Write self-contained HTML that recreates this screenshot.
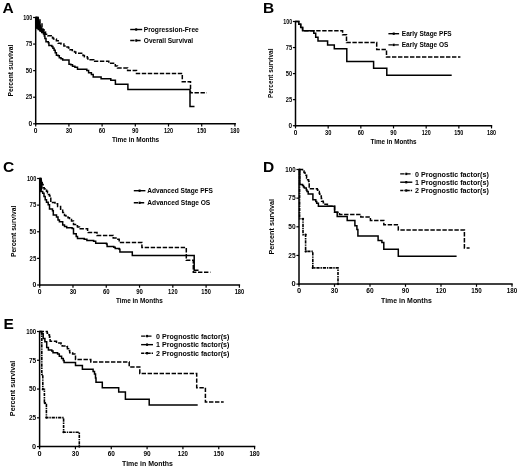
<!DOCTYPE html>
<html><head><meta charset="utf-8"><style>
html,body{margin:0;padding:0;background:#fff;width:520px;height:469px;overflow:hidden}
svg{display:block;filter:grayscale(1)}
</style></head><body>
<svg width="520" height="469" viewBox="0 0 520 469">
<rect width="520" height="469" fill="#fff"/>
<g font-family='"Liberation Sans", sans-serif' fill="#000">
<text x="2.6" y="12.7" font-size="15.5" font-weight="bold">A</text>
<text x="263.1" y="12.7" font-size="15.5" font-weight="bold">B</text>
<text x="3.1" y="172.3" font-size="15.5" font-weight="bold">C</text>
<text x="263.0" y="172.2" font-size="15.5" font-weight="bold">D</text>
<text x="3.6" y="329.0" font-size="15.5" font-weight="bold">E</text>
<line x1="35.7" y1="16.8" x2="35.7" y2="124.55" stroke="#000" stroke-width="1.5"/>
<line x1="34.95" y1="123.8" x2="235.89999999999998" y2="123.8" stroke="#000" stroke-width="1.5"/>
<line x1="33.1" y1="123.8" x2="35.7" y2="123.8" stroke="#000" stroke-width="1.2"/>
<text x="32.3" y="126.05" font-size="6.7" font-weight="bold" text-anchor="end" textLength="3.69" lengthAdjust="spacingAndGlyphs">0</text>
<line x1="33.1" y1="97.225" x2="35.7" y2="97.225" stroke="#000" stroke-width="1.2"/>
<text x="32.3" y="99.47" font-size="6.7" font-weight="bold" text-anchor="end" textLength="6.5" lengthAdjust="spacingAndGlyphs">25</text>
<line x1="33.1" y1="70.65" x2="35.7" y2="70.65" stroke="#000" stroke-width="1.2"/>
<text x="32.3" y="72.9" font-size="6.7" font-weight="bold" text-anchor="end" textLength="6.5" lengthAdjust="spacingAndGlyphs">50</text>
<line x1="33.1" y1="44.075" x2="35.7" y2="44.075" stroke="#000" stroke-width="1.2"/>
<text x="32.3" y="46.33" font-size="6.7" font-weight="bold" text-anchor="end" textLength="6.5" lengthAdjust="spacingAndGlyphs">75</text>
<line x1="33.1" y1="17.5" x2="35.7" y2="17.5" stroke="#000" stroke-width="1.2"/>
<text x="32.3" y="19.75" font-size="6.7" font-weight="bold" text-anchor="end" textLength="9.02" lengthAdjust="spacingAndGlyphs">100</text>
<line x1="35.7" y1="123.8" x2="35.7" y2="126.5" stroke="#000" stroke-width="1.2"/>
<text x="35.7" y="132.7" font-size="6.7" font-weight="bold" text-anchor="middle" textLength="3.69" lengthAdjust="spacingAndGlyphs">0</text>
<line x1="68.9" y1="123.8" x2="68.9" y2="126.5" stroke="#000" stroke-width="1.2"/>
<text x="68.9" y="132.7" font-size="6.7" font-weight="bold" text-anchor="middle" textLength="6.5" lengthAdjust="spacingAndGlyphs">30</text>
<line x1="102.10000000000001" y1="123.8" x2="102.10000000000001" y2="126.5" stroke="#000" stroke-width="1.2"/>
<text x="102.1" y="132.7" font-size="6.7" font-weight="bold" text-anchor="middle" textLength="6.5" lengthAdjust="spacingAndGlyphs">60</text>
<line x1="135.3" y1="123.8" x2="135.3" y2="126.5" stroke="#000" stroke-width="1.2"/>
<text x="135.3" y="132.7" font-size="6.7" font-weight="bold" text-anchor="middle" textLength="6.5" lengthAdjust="spacingAndGlyphs">90</text>
<line x1="168.5" y1="123.8" x2="168.5" y2="126.5" stroke="#000" stroke-width="1.2"/>
<text x="168.5" y="132.7" font-size="6.7" font-weight="bold" text-anchor="middle" textLength="9.21" lengthAdjust="spacingAndGlyphs">120</text>
<line x1="201.7" y1="123.8" x2="201.7" y2="126.5" stroke="#000" stroke-width="1.2"/>
<text x="201.7" y="132.7" font-size="6.7" font-weight="bold" text-anchor="middle" textLength="9.21" lengthAdjust="spacingAndGlyphs">150</text>
<line x1="234.90000000000003" y1="123.8" x2="234.90000000000003" y2="126.5" stroke="#000" stroke-width="1.2"/>
<text x="234.9" y="132.7" font-size="6.7" font-weight="bold" text-anchor="middle" textLength="9.21" lengthAdjust="spacingAndGlyphs">180</text>
<line x1="295.5" y1="20.8" x2="295.5" y2="126.45" stroke="#000" stroke-width="1.5"/>
<line x1="294.75" y1="125.7" x2="492.2" y2="125.7" stroke="#000" stroke-width="1.5"/>
<line x1="292.9" y1="125.7" x2="295.5" y2="125.7" stroke="#000" stroke-width="1.2"/>
<text x="292.1" y="127.95" font-size="6.7" font-weight="bold" text-anchor="end" textLength="3.61" lengthAdjust="spacingAndGlyphs">0</text>
<line x1="292.9" y1="99.65" x2="295.5" y2="99.65" stroke="#000" stroke-width="1.2"/>
<text x="292.1" y="101.9" font-size="6.7" font-weight="bold" text-anchor="end" textLength="6.37" lengthAdjust="spacingAndGlyphs">25</text>
<line x1="292.9" y1="73.6" x2="295.5" y2="73.6" stroke="#000" stroke-width="1.2"/>
<text x="292.1" y="75.85" font-size="6.7" font-weight="bold" text-anchor="end" textLength="6.37" lengthAdjust="spacingAndGlyphs">50</text>
<line x1="292.9" y1="47.55" x2="295.5" y2="47.55" stroke="#000" stroke-width="1.2"/>
<text x="292.1" y="49.8" font-size="6.7" font-weight="bold" text-anchor="end" textLength="6.37" lengthAdjust="spacingAndGlyphs">75</text>
<line x1="292.9" y1="21.5" x2="295.5" y2="21.5" stroke="#000" stroke-width="1.2"/>
<text x="292.1" y="23.75" font-size="6.7" font-weight="bold" text-anchor="end" textLength="8.84" lengthAdjust="spacingAndGlyphs">100</text>
<line x1="295.5" y1="125.7" x2="295.5" y2="128.4" stroke="#000" stroke-width="1.2"/>
<text x="295.5" y="134.6" font-size="6.7" font-weight="bold" text-anchor="middle" textLength="3.61" lengthAdjust="spacingAndGlyphs">0</text>
<line x1="328.17" y1="125.7" x2="328.17" y2="128.4" stroke="#000" stroke-width="1.2"/>
<text x="328.17" y="134.6" font-size="6.7" font-weight="bold" text-anchor="middle" textLength="6.37" lengthAdjust="spacingAndGlyphs">30</text>
<line x1="360.84000000000003" y1="125.7" x2="360.84000000000003" y2="128.4" stroke="#000" stroke-width="1.2"/>
<text x="360.84" y="134.6" font-size="6.7" font-weight="bold" text-anchor="middle" textLength="6.37" lengthAdjust="spacingAndGlyphs">60</text>
<line x1="393.51" y1="125.7" x2="393.51" y2="128.4" stroke="#000" stroke-width="1.2"/>
<text x="393.51" y="134.6" font-size="6.7" font-weight="bold" text-anchor="middle" textLength="6.37" lengthAdjust="spacingAndGlyphs">90</text>
<line x1="426.18" y1="125.7" x2="426.18" y2="128.4" stroke="#000" stroke-width="1.2"/>
<text x="426.18" y="134.6" font-size="6.7" font-weight="bold" text-anchor="middle" textLength="9.03" lengthAdjust="spacingAndGlyphs">120</text>
<line x1="458.85" y1="125.7" x2="458.85" y2="128.4" stroke="#000" stroke-width="1.2"/>
<text x="458.85" y="134.6" font-size="6.7" font-weight="bold" text-anchor="middle" textLength="9.03" lengthAdjust="spacingAndGlyphs">150</text>
<line x1="491.52" y1="125.7" x2="491.52" y2="128.4" stroke="#000" stroke-width="1.2"/>
<text x="491.52" y="134.6" font-size="6.7" font-weight="bold" text-anchor="middle" textLength="9.03" lengthAdjust="spacingAndGlyphs">180</text>
<line x1="39.7" y1="177.8" x2="39.7" y2="285.75" stroke="#000" stroke-width="1.5"/>
<line x1="38.95" y1="285.0" x2="240.1" y2="285.0" stroke="#000" stroke-width="1.5"/>
<line x1="37.1" y1="285.0" x2="39.7" y2="285.0" stroke="#000" stroke-width="1.2"/>
<text x="36.3" y="287.25" font-size="6.7" font-weight="bold" text-anchor="end" textLength="3.8" lengthAdjust="spacingAndGlyphs">0</text>
<line x1="37.1" y1="258.375" x2="39.7" y2="258.375" stroke="#000" stroke-width="1.2"/>
<text x="36.3" y="260.62" font-size="6.7" font-weight="bold" text-anchor="end" textLength="6.7" lengthAdjust="spacingAndGlyphs">25</text>
<line x1="37.1" y1="231.75" x2="39.7" y2="231.75" stroke="#000" stroke-width="1.2"/>
<text x="36.3" y="234.0" font-size="6.7" font-weight="bold" text-anchor="end" textLength="6.7" lengthAdjust="spacingAndGlyphs">50</text>
<line x1="37.1" y1="205.125" x2="39.7" y2="205.125" stroke="#000" stroke-width="1.2"/>
<text x="36.3" y="207.38" font-size="6.7" font-weight="bold" text-anchor="end" textLength="6.7" lengthAdjust="spacingAndGlyphs">75</text>
<line x1="37.1" y1="178.5" x2="39.7" y2="178.5" stroke="#000" stroke-width="1.2"/>
<text x="36.3" y="180.75" font-size="6.7" font-weight="bold" text-anchor="end" textLength="9.3" lengthAdjust="spacingAndGlyphs">100</text>
<line x1="39.7" y1="285.0" x2="39.7" y2="287.7" stroke="#000" stroke-width="1.2"/>
<text x="39.7" y="293.9" font-size="6.7" font-weight="bold" text-anchor="middle" textLength="3.8" lengthAdjust="spacingAndGlyphs">0</text>
<line x1="72.98" y1="285.0" x2="72.98" y2="287.7" stroke="#000" stroke-width="1.2"/>
<text x="72.98" y="293.9" font-size="6.7" font-weight="bold" text-anchor="middle" textLength="6.7" lengthAdjust="spacingAndGlyphs">30</text>
<line x1="106.26" y1="285.0" x2="106.26" y2="287.7" stroke="#000" stroke-width="1.2"/>
<text x="106.26" y="293.9" font-size="6.7" font-weight="bold" text-anchor="middle" textLength="6.7" lengthAdjust="spacingAndGlyphs">60</text>
<line x1="139.54000000000002" y1="285.0" x2="139.54000000000002" y2="287.7" stroke="#000" stroke-width="1.2"/>
<text x="139.54" y="293.9" font-size="6.7" font-weight="bold" text-anchor="middle" textLength="6.7" lengthAdjust="spacingAndGlyphs">90</text>
<line x1="172.82" y1="285.0" x2="172.82" y2="287.7" stroke="#000" stroke-width="1.2"/>
<text x="172.82" y="293.9" font-size="6.7" font-weight="bold" text-anchor="middle" textLength="9.5" lengthAdjust="spacingAndGlyphs">120</text>
<line x1="206.10000000000002" y1="285.0" x2="206.10000000000002" y2="287.7" stroke="#000" stroke-width="1.2"/>
<text x="206.1" y="293.9" font-size="6.7" font-weight="bold" text-anchor="middle" textLength="9.5" lengthAdjust="spacingAndGlyphs">150</text>
<line x1="239.38" y1="285.0" x2="239.38" y2="287.7" stroke="#000" stroke-width="1.2"/>
<text x="239.38" y="293.9" font-size="6.7" font-weight="bold" text-anchor="middle" textLength="9.5" lengthAdjust="spacingAndGlyphs">180</text>
<line x1="299.0" y1="168.8" x2="299.0" y2="284.85" stroke="#000" stroke-width="1.5"/>
<line x1="298.25" y1="284.1" x2="512.7" y2="284.1" stroke="#000" stroke-width="1.5"/>
<line x1="296.4" y1="284.1" x2="299.0" y2="284.1" stroke="#000" stroke-width="1.2"/>
<text x="295.6" y="286.35" font-size="6.7" font-weight="bold" text-anchor="end" textLength="4.18" lengthAdjust="spacingAndGlyphs">0</text>
<line x1="296.4" y1="255.45000000000002" x2="299.0" y2="255.45000000000002" stroke="#000" stroke-width="1.2"/>
<text x="295.6" y="257.7" font-size="6.7" font-weight="bold" text-anchor="end" textLength="7.37" lengthAdjust="spacingAndGlyphs">25</text>
<line x1="296.4" y1="226.8" x2="299.0" y2="226.8" stroke="#000" stroke-width="1.2"/>
<text x="295.6" y="229.05" font-size="6.7" font-weight="bold" text-anchor="end" textLength="7.37" lengthAdjust="spacingAndGlyphs">50</text>
<line x1="296.4" y1="198.15" x2="299.0" y2="198.15" stroke="#000" stroke-width="1.2"/>
<text x="295.6" y="200.4" font-size="6.7" font-weight="bold" text-anchor="end" textLength="7.37" lengthAdjust="spacingAndGlyphs">75</text>
<line x1="296.4" y1="169.5" x2="299.0" y2="169.5" stroke="#000" stroke-width="1.2"/>
<text x="295.6" y="171.75" font-size="6.7" font-weight="bold" text-anchor="end" textLength="10.23" lengthAdjust="spacingAndGlyphs">100</text>
<line x1="299.0" y1="284.1" x2="299.0" y2="286.8" stroke="#000" stroke-width="1.2"/>
<text x="299.0" y="293.0" font-size="6.7" font-weight="bold" text-anchor="middle" textLength="4.18" lengthAdjust="spacingAndGlyphs">0</text>
<line x1="334.5" y1="284.1" x2="334.5" y2="286.8" stroke="#000" stroke-width="1.2"/>
<text x="334.5" y="293.0" font-size="6.7" font-weight="bold" text-anchor="middle" textLength="7.37" lengthAdjust="spacingAndGlyphs">30</text>
<line x1="370.0" y1="284.1" x2="370.0" y2="286.8" stroke="#000" stroke-width="1.2"/>
<text x="370.0" y="293.0" font-size="6.7" font-weight="bold" text-anchor="middle" textLength="7.37" lengthAdjust="spacingAndGlyphs">60</text>
<line x1="405.5" y1="284.1" x2="405.5" y2="286.8" stroke="#000" stroke-width="1.2"/>
<text x="405.5" y="293.0" font-size="6.7" font-weight="bold" text-anchor="middle" textLength="7.37" lengthAdjust="spacingAndGlyphs">90</text>
<line x1="441.0" y1="284.1" x2="441.0" y2="286.8" stroke="#000" stroke-width="1.2"/>
<text x="441.0" y="293.0" font-size="6.7" font-weight="bold" text-anchor="middle" textLength="10.45" lengthAdjust="spacingAndGlyphs">120</text>
<line x1="476.5" y1="284.1" x2="476.5" y2="286.8" stroke="#000" stroke-width="1.2"/>
<text x="476.5" y="293.0" font-size="6.7" font-weight="bold" text-anchor="middle" textLength="10.45" lengthAdjust="spacingAndGlyphs">150</text>
<line x1="512.0" y1="284.1" x2="512.0" y2="286.8" stroke="#000" stroke-width="1.2"/>
<text x="512.0" y="293.0" font-size="6.7" font-weight="bold" text-anchor="middle" textLength="10.45" lengthAdjust="spacingAndGlyphs">180</text>
<line x1="39.6" y1="330.8" x2="39.6" y2="447.35" stroke="#000" stroke-width="1.5"/>
<line x1="38.85" y1="446.6" x2="255.29999999999998" y2="446.6" stroke="#000" stroke-width="1.5"/>
<line x1="37.0" y1="446.6" x2="39.6" y2="446.6" stroke="#000" stroke-width="1.2"/>
<text x="36.2" y="448.85" font-size="6.7" font-weight="bold" text-anchor="end" textLength="4.1" lengthAdjust="spacingAndGlyphs">0</text>
<line x1="37.0" y1="417.82500000000005" x2="39.6" y2="417.82500000000005" stroke="#000" stroke-width="1.2"/>
<text x="36.2" y="420.08" font-size="6.7" font-weight="bold" text-anchor="end" textLength="7.24" lengthAdjust="spacingAndGlyphs">25</text>
<line x1="37.0" y1="389.05" x2="39.6" y2="389.05" stroke="#000" stroke-width="1.2"/>
<text x="36.2" y="391.3" font-size="6.7" font-weight="bold" text-anchor="end" textLength="7.24" lengthAdjust="spacingAndGlyphs">50</text>
<line x1="37.0" y1="360.275" x2="39.6" y2="360.275" stroke="#000" stroke-width="1.2"/>
<text x="36.2" y="362.52" font-size="6.7" font-weight="bold" text-anchor="end" textLength="7.24" lengthAdjust="spacingAndGlyphs">75</text>
<line x1="37.0" y1="331.5" x2="39.6" y2="331.5" stroke="#000" stroke-width="1.2"/>
<text x="36.2" y="333.75" font-size="6.7" font-weight="bold" text-anchor="end" textLength="10.04" lengthAdjust="spacingAndGlyphs">100</text>
<line x1="39.6" y1="446.6" x2="39.6" y2="449.3" stroke="#000" stroke-width="1.2"/>
<text x="39.6" y="455.5" font-size="6.7" font-weight="bold" text-anchor="middle" textLength="4.1" lengthAdjust="spacingAndGlyphs">0</text>
<line x1="75.43" y1="446.6" x2="75.43" y2="449.3" stroke="#000" stroke-width="1.2"/>
<text x="75.43" y="455.5" font-size="6.7" font-weight="bold" text-anchor="middle" textLength="7.24" lengthAdjust="spacingAndGlyphs">30</text>
<line x1="111.25999999999999" y1="446.6" x2="111.25999999999999" y2="449.3" stroke="#000" stroke-width="1.2"/>
<text x="111.26" y="455.5" font-size="6.7" font-weight="bold" text-anchor="middle" textLength="7.24" lengthAdjust="spacingAndGlyphs">60</text>
<line x1="147.09" y1="446.6" x2="147.09" y2="449.3" stroke="#000" stroke-width="1.2"/>
<text x="147.09" y="455.5" font-size="6.7" font-weight="bold" text-anchor="middle" textLength="7.24" lengthAdjust="spacingAndGlyphs">90</text>
<line x1="182.92" y1="446.6" x2="182.92" y2="449.3" stroke="#000" stroke-width="1.2"/>
<text x="182.92" y="455.5" font-size="6.7" font-weight="bold" text-anchor="middle" textLength="10.26" lengthAdjust="spacingAndGlyphs">120</text>
<line x1="218.74999999999997" y1="446.6" x2="218.74999999999997" y2="449.3" stroke="#000" stroke-width="1.2"/>
<text x="218.75" y="455.5" font-size="6.7" font-weight="bold" text-anchor="middle" textLength="10.26" lengthAdjust="spacingAndGlyphs">150</text>
<line x1="254.57999999999998" y1="446.6" x2="254.57999999999998" y2="449.3" stroke="#000" stroke-width="1.2"/>
<text x="254.58" y="455.5" font-size="6.7" font-weight="bold" text-anchor="middle" textLength="10.26" lengthAdjust="spacingAndGlyphs">180</text>
<text x="135.6" y="142.1" font-size="6.8" font-weight="bold" text-anchor="middle" textLength="47.2" lengthAdjust="spacingAndGlyphs">Time in Months</text>
<text x="393.5" y="143.5" font-size="6.8" font-weight="bold" text-anchor="middle" textLength="46.2" lengthAdjust="spacingAndGlyphs">Time in Months</text>
<text x="139.4" y="303.1" font-size="6.8" font-weight="bold" text-anchor="middle" textLength="46.7" lengthAdjust="spacingAndGlyphs">Time in Months</text>
<text x="406.4" y="303.3" font-size="7.2" font-weight="bold" text-anchor="middle" textLength="50.7" lengthAdjust="spacingAndGlyphs">Time in Months</text>
<text x="147.5" y="465.5" font-size="7.2" font-weight="bold" text-anchor="middle" textLength="51.0" lengthAdjust="spacingAndGlyphs">Time in Months</text>
<text x="13.2" y="70.6" font-size="6.8" font-weight="bold" text-anchor="middle" textLength="51.7" lengthAdjust="spacingAndGlyphs" transform="rotate(-90 13.2 70.6)">Percent survival</text>
<text x="272.9" y="73.25" font-size="6.8" font-weight="bold" text-anchor="middle" textLength="49.4" lengthAdjust="spacingAndGlyphs" transform="rotate(-90 272.9 73.25)">Percent survival</text>
<text x="16.3" y="231.4" font-size="6.8" font-weight="bold" text-anchor="middle" textLength="51.3" lengthAdjust="spacingAndGlyphs" transform="rotate(-90 16.3 231.4)">Percent survival</text>
<text x="274.1" y="226.7" font-size="6.8" font-weight="bold" text-anchor="middle" textLength="55.5" lengthAdjust="spacingAndGlyphs" transform="rotate(-90 274.1 226.7)">Percent survival</text>
<text x="14.9" y="388.4" font-size="6.8" font-weight="bold" text-anchor="middle" textLength="55.5" lengthAdjust="spacingAndGlyphs" transform="rotate(-90 14.9 388.4)">Percent survival</text>
<path d="M35.7,16.8H38.6L40.4,23.2L41.9,27.6L43.6,30.2L45.6,33L44,34.2L41.6,32.6L39.2,30.4L37.2,28.8H35.7Z" fill="#000"/>
<path d="M35.7,17.5H38V19H40V23H42V27H43V29.7H44V32H45.5V34.3H47.8V35.8H51.2V36.9H52.5V38H53.5V39H56.4V40.7H58.2V43.3H61V44H63.9V45.9H66.2V47H68.5V48H70V49.8H72.3V51.5H74.6V52.1H75.8V53.2H83V55.5H84.4V56.7H87.3V58.1H87.9V59.8H93.7V61.3H108.8V63.3H115.3V66H117.5V67.9H127.6V70.6H136.5V73.4H182.3V81.7H190.5V92.7H206.8" fill="none" stroke="#000" stroke-width="1.5" stroke-dasharray="4.4 1.6" stroke-linejoin="miter" stroke-linecap="butt"/>
<path d="M35.7,17.5H36.6V27.8H38.2V29.5H40V31H41.7V32.5H43.5V34H44.3V36H44.9V38.4H46V41.8H48.3V42.7H48.9V45.5H51.8V46.6H52.9V48.3H54.1V50.3H55.2V52.7H56.4V55.3H58.1V55.8H59.3V57.8H61V58.7H62.7V59.9H69V64.2H70.8V64.8H72.5V66.2H74.9V67.3H77.5V69.2H86.8V70.5H88.6V72.8H91.4V74.6H93.2V76.9H101.1V78.8H110.8V80.2H115.4V84.3H127.9V89.6H190V106.6H194.5" fill="none" stroke="#000" stroke-width="1.5" stroke-linejoin="miter" stroke-linecap="butt"/>
<path d="M295.5,21.5H298.8V24.3H300.7V27.6H302.6V30.8H313.8V33.3H315.7V37.2H318V41H327.6V44.9H334.3V48.7H346.8V61.4H373.6V68.2H386.8V75.3H451.7" fill="none" stroke="#000" stroke-width="1.5" stroke-linejoin="miter" stroke-linecap="butt"/>
<path d="M295.5,21.5H298.8V24.3H300.7V27.6H302.6V30.8H342.6V34.7H346.5V42.6H376.7V49.5H386.5V57H460.4" fill="none" stroke="#000" stroke-width="1.5" stroke-dasharray="4.4 1.6" stroke-linejoin="miter" stroke-linecap="butt"/>
<path d="M39.7,178.2H41.6L42.6,183V188L41.4,191.8H39.7Z" fill="#000"/>
<path d="M39.7,178.6H41V181H42.2V184.5H43.1V187.8H44.2V188.9H45.3V190H46.5V191.2H47.5V192.8H48.5V194.4H49.5V195.9H50.8V202.5H55V203.8H57.6V206.5H60.6V209.3H62.7V212.5H64.5V215.5H66V217H68V217.7H69.5V219.5H71.5V221H73.5V224.4H75.5V225.8H77.5V227.1H79.5V228.8H87.6V231.8H88.3V232.5H97V235.4H113.2V238H116V239.2H119.2V242.5H141.9V247.6H186.3V260.3H193.3V272.3H210.4" fill="none" stroke="#000" stroke-width="1.5" stroke-dasharray="4.4 1.6" stroke-linejoin="miter" stroke-linecap="butt"/>
<path d="M39.7,178.6H40.5V191.6H42.7V193.3H44V196.5H45.2V199.8H46.5V202.3H48.2V204.8H49.5V209.1H52.5V210.8H53.3V215H56.5V217.1H58V220H59.4V221.7H62.7V225.1H64.5V226.5H66.7V227.8H72.1V228.5H73.5V233.8H76.2V236.5H77.5V238.6H84.2V239.2H86.9V240.6H93.6V241.2H95.7V243.3H106.5V243.9H107.1V246.6H113.8V247.3H115.2V248.6H119.2V249.3H119.9V252H132.3V255.6H194.2V270.3H198.5" fill="none" stroke="#000" stroke-width="1.5" stroke-linejoin="miter" stroke-linecap="butt"/>
<path d="M299,169.5H302.5V171H304V172.5H305V174H306V175.3H306.6V178.2H307.6V179.8H308.6V181.4H309.2V188.8H317.3V189.8H317.8V191.5H319.3V193.5H319.8V196.1H321.3V198.4H321.6V201.3H323.3V202.7H325V204.2H327.4V205.6H328V206.2H334.6V212.2H339.5V214.4H360.8V217.1H370.4V220.4H383.8V224.8H398.3V230.1H464.4V247.9H469.6" fill="none" stroke="#000" stroke-width="1.5" stroke-dasharray="4.4 1.6" stroke-linejoin="miter" stroke-linecap="butt"/>
<path d="M299,169.5H299.8V184.6H302.5V185.5H303.5V187H304.4V188.1H306.3V190H307V191.5H308.2V194.1H312.9V199.8H315.8V201.6H316.7V203.3H318.4V206.2H334.6V212.2H337.2V216.4H347.2V220.4H354.9V225.8H356.9V229.6H357.9V236.1H378.1V240.6H381.9V242.5H383.8V249.3H398.3V256.2H456.6" fill="none" stroke="#000" stroke-width="1.5" stroke-linejoin="miter" stroke-linecap="butt"/>
<path d="M299.6,169.5V218.8H303V234.7H305.6V251.4H312.8V267.9H338V284.1" fill="none" stroke="#000" stroke-width="1.6" stroke-dasharray="3.2 0.9 1.4 0.9"/>
<circle cx="303" cy="218.8" r="1.15" fill="#000"/>
<circle cx="305.6" cy="234.7" r="1.15" fill="#000"/>
<circle cx="305.8" cy="251.4" r="1.15" fill="#000"/>
<circle cx="312.8" cy="267.9" r="1.15" fill="#000"/>
<circle cx="338" cy="284.1" r="1.15" fill="#000"/>
<path d="M39.6,331.5H47.2V333.2H49V334.9H49.5V337.2H50.1V341.3H56.5V343H61.1V344.1H62.2V345.9H67V346.5H67.4V348.8H68.6V350.5H69.7V352.8H72.6V354H74.9V355.1H75.5V359.6H90.8V362.1H129.2V366.9H139.8V373.5H196.7V387.7H205.4V402.1H223.7" fill="none" stroke="#000" stroke-width="1.5" stroke-dasharray="4.4 1.6" stroke-linejoin="miter" stroke-linecap="butt"/>
<path d="M39.6,331.5H41.5V333.8H43.2V338.4H44.9V341.8H46.7V347.6H48.4V349.9H51.8V351.1H53V352.8H57.6V354H59.3V356.3H61.6V358.4H63.3V360.4H64.1V362.6H75.5V365.5H82.4V369.3H93.1V371.5H94.5V374H95.5V378H96V382.3H102.3V387.7H118.7V391.9H125.4V399.2H149.2V405H197.7" fill="none" stroke="#000" stroke-width="1.5" stroke-linejoin="miter" stroke-linecap="butt"/>
<path d="M41.8,331.5V374.4H42.8V389.3H44.4V403.1H46.4V417.6H63.6V432.2H79.3V446.6" fill="none" stroke="#000" stroke-width="1.6" stroke-dasharray="3.2 0.9 1.4 0.9"/>
<circle cx="42.8" cy="389.3" r="1.15" fill="#000"/>
<circle cx="44.8" cy="403.1" r="1.15" fill="#000"/>
<circle cx="46.4" cy="417.6" r="1.15" fill="#000"/>
<circle cx="63.6" cy="432.2" r="1.15" fill="#000"/>
<circle cx="79.3" cy="446.6" r="1.15" fill="#000"/>
<line x1="130.2" y1="29.5" x2="142.2" y2="29.5" stroke="#000" stroke-width="1.4"/>
<rect x="135.2" y="28.3" width="2" height="2.4" fill="#000"/>
<text x="143.8" y="31.7" font-size="6.6" font-weight="bold" textLength="55.0" lengthAdjust="spacingAndGlyphs">Progression-Free</text>
<line x1="130.2" y1="40.5" x2="142.2" y2="40.5" stroke="#000" stroke-width="1.4" stroke-dasharray="4.4 1.6"/>
<rect x="135.2" y="39.3" width="2" height="2.4" fill="#000"/>
<text x="143.8" y="42.8" font-size="6.6" font-weight="bold" textLength="49.4" lengthAdjust="spacingAndGlyphs">Overall Survival</text>
<line x1="388.4" y1="33.7" x2="399.1" y2="33.7" stroke="#000" stroke-width="1.4"/>
<rect x="392.75" y="32.5" width="2" height="2.4" fill="#000"/>
<text x="401.8" y="35.8" font-size="6.6" font-weight="bold" textLength="49.9" lengthAdjust="spacingAndGlyphs">Early Stage PFS</text>
<line x1="388.4" y1="44.9" x2="399.1" y2="44.9" stroke="#000" stroke-width="1.4" stroke-dasharray="4.4 1.6"/>
<rect x="392.75" y="43.699999999999996" width="2" height="2.4" fill="#000"/>
<text x="401.8" y="46.8" font-size="6.6" font-weight="bold" textLength="46.5" lengthAdjust="spacingAndGlyphs">Early Stage OS</text>
<line x1="133.8" y1="190.7" x2="145.4" y2="190.7" stroke="#000" stroke-width="1.4"/>
<rect x="138.60000000000002" y="189.5" width="2" height="2.4" fill="#000"/>
<text x="147.3" y="192.8" font-size="6.6" font-weight="bold" textLength="65.7" lengthAdjust="spacingAndGlyphs">Advanced Stage PFS</text>
<line x1="133.8" y1="202.8" x2="145.4" y2="202.8" stroke="#000" stroke-width="1.4" stroke-dasharray="4.4 1.6"/>
<rect x="138.60000000000002" y="201.60000000000002" width="2" height="2.4" fill="#000"/>
<text x="147.3" y="204.8" font-size="6.6" font-weight="bold" textLength="63.0" lengthAdjust="spacingAndGlyphs">Advanced Stage OS</text>
<line x1="400.2" y1="173.9" x2="412.3" y2="173.9" stroke="#000" stroke-width="1.4" stroke-dasharray="4.4 1.6"/>
<rect x="405.25" y="172.70000000000002" width="2" height="2.4" fill="#000"/>
<text x="415.0" y="176.6" font-size="6.6" font-weight="bold" textLength="73.8" lengthAdjust="spacingAndGlyphs">0 Prognostic factor(s)</text>
<line x1="400.2" y1="182.2" x2="412.3" y2="182.2" stroke="#000" stroke-width="1.4"/>
<rect x="405.25" y="181.0" width="2" height="2.4" fill="#000"/>
<text x="415.0" y="184.85" font-size="6.6" font-weight="bold" textLength="73.8" lengthAdjust="spacingAndGlyphs">1 Prognostic factor(s)</text>
<line x1="400.2" y1="190.5" x2="412.3" y2="190.5" stroke="#000" stroke-width="1.6" stroke-dasharray="3.2 0.9 1.4 0.9"/>
<rect x="405.25" y="189.3" width="2" height="2.4" fill="#000"/>
<text x="415.0" y="193.1" font-size="6.6" font-weight="bold" textLength="73.8" lengthAdjust="spacingAndGlyphs">2 Prognostic factor(s)</text>
<line x1="141.1" y1="336.1" x2="153.0" y2="336.1" stroke="#000" stroke-width="1.4" stroke-dasharray="4.4 1.6"/>
<rect x="146.05" y="334.90000000000003" width="2" height="2.4" fill="#000"/>
<text x="156.1" y="338.5" font-size="6.6" font-weight="bold" textLength="73.3" lengthAdjust="spacingAndGlyphs">0 Prognostic factor(s)</text>
<line x1="141.1" y1="344.65" x2="153.0" y2="344.65" stroke="#000" stroke-width="1.4"/>
<rect x="146.05" y="343.45" width="2" height="2.4" fill="#000"/>
<text x="156.1" y="347.0" font-size="6.6" font-weight="bold" textLength="73.3" lengthAdjust="spacingAndGlyphs">1 Prognostic factor(s)</text>
<line x1="141.1" y1="353.2" x2="153.0" y2="353.2" stroke="#000" stroke-width="1.6" stroke-dasharray="3.2 0.9 1.4 0.9"/>
<rect x="146.05" y="352.0" width="2" height="2.4" fill="#000"/>
<text x="156.1" y="355.5" font-size="6.6" font-weight="bold" textLength="73.3" lengthAdjust="spacingAndGlyphs">2 Prognostic factor(s)</text>
</g></svg>
</body></html>
